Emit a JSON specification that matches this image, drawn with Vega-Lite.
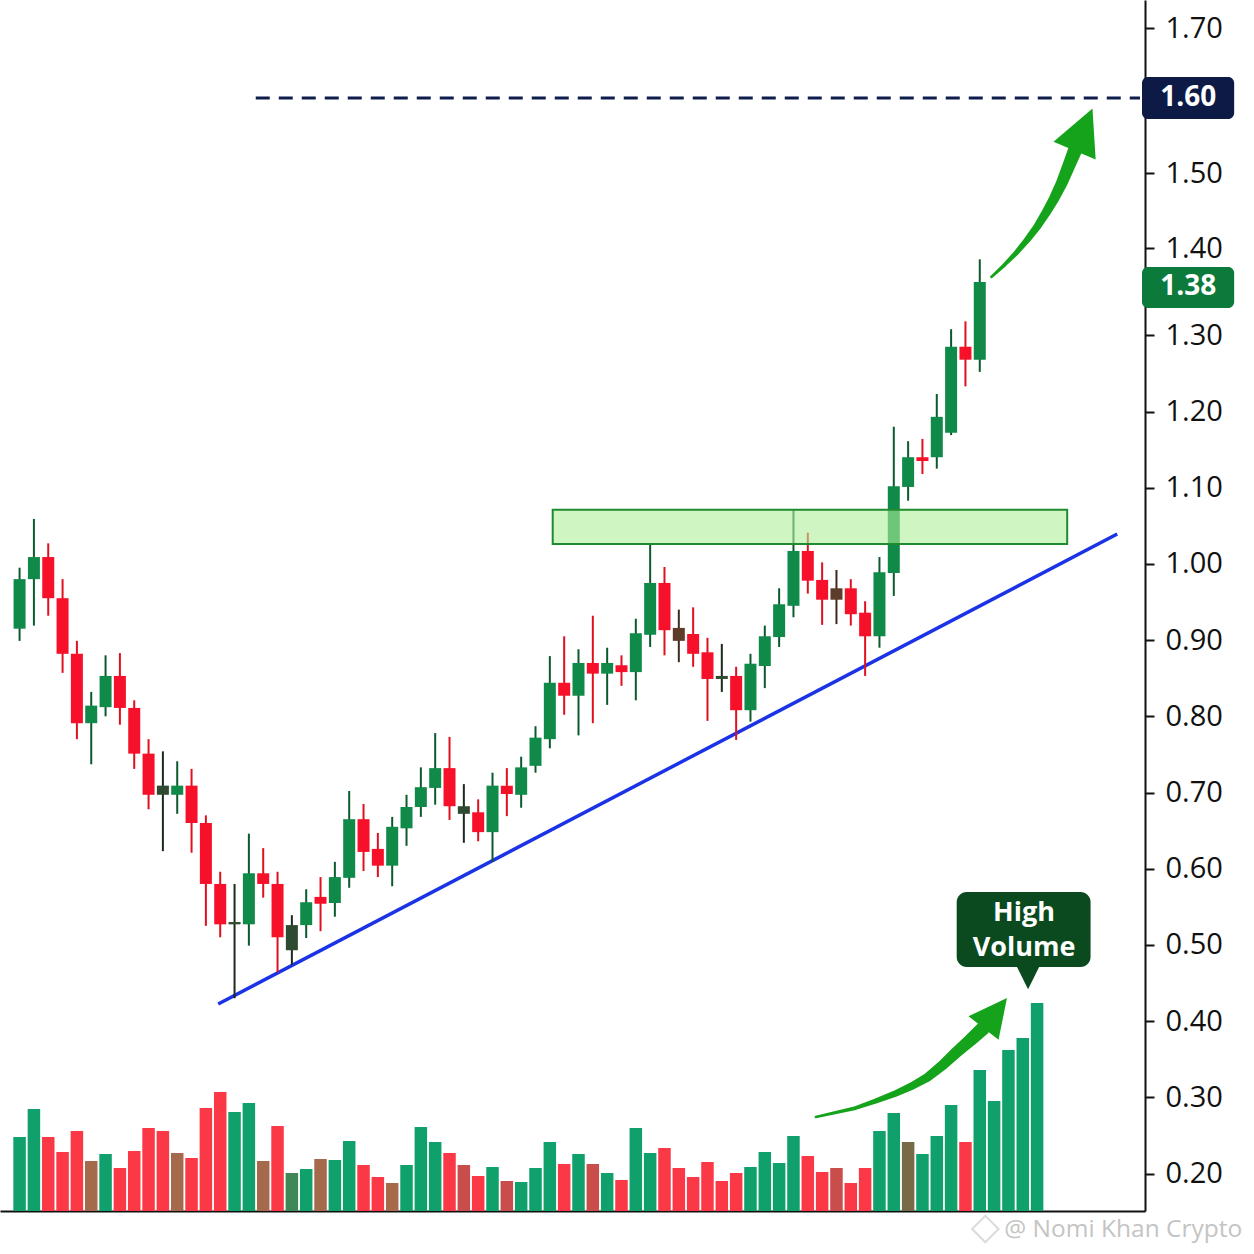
{
  "$schema": "https://vega.github.io/schema/vega-lite/v6.json",
  "width": 1145,
  "height": 1211,
  "autosize": {"type": "none"},
  "padding": {"left": 0, "top": 0, "right": 109, "bottom": 43},
  "background": "#ffffff",
  "config": {
    "view": {"stroke": null},
    "axisX": {"labels": false, "ticks": false, "grid": false, "domainColor": "#111111", "domainWidth": 2}
  },
  "datasets": {
    "candles": [
      {"i": 0, "o": 0.915, "h": 0.995, "l": 0.899, "c": 0.980, "t": "up"},
      {"i": 1, "o": 0.980, "h": 1.059, "l": 0.919, "c": 1.009, "t": "up"},
      {"i": 2, "o": 1.009, "h": 1.027, "l": 0.932, "c": 0.955, "t": "down"},
      {"i": 3, "o": 0.955, "h": 0.980, "l": 0.857, "c": 0.882, "t": "down"},
      {"i": 4, "o": 0.882, "h": 0.899, "l": 0.770, "c": 0.791, "t": "down"},
      {"i": 5, "o": 0.791, "h": 0.832, "l": 0.737, "c": 0.814, "t": "up"},
      {"i": 6, "o": 0.812, "h": 0.880, "l": 0.800, "c": 0.853, "t": "up"},
      {"i": 7, "o": 0.853, "h": 0.883, "l": 0.789, "c": 0.811, "t": "down"},
      {"i": 8, "o": 0.811, "h": 0.821, "l": 0.731, "c": 0.751, "t": "down"},
      {"i": 9, "o": 0.751, "h": 0.770, "l": 0.678, "c": 0.697, "t": "down"},
      {"i": 10, "o": 0.697, "h": 0.754, "l": 0.623, "c": 0.709, "t": "dark"},
      {"i": 11, "o": 0.697, "h": 0.741, "l": 0.672, "c": 0.709, "t": "up"},
      {"i": 12, "o": 0.709, "h": 0.731, "l": 0.621, "c": 0.660, "t": "down"},
      {"i": 13, "o": 0.660, "h": 0.670, "l": 0.525, "c": 0.580, "t": "down"},
      {"i": 14, "o": 0.580, "h": 0.596, "l": 0.510, "c": 0.527, "t": "down"},
      {"i": 15, "o": 0.527, "h": 0.580, "l": 0.430, "c": 0.530, "t": "dark"},
      {"i": 16, "o": 0.527, "h": 0.646, "l": 0.499, "c": 0.594, "t": "up"},
      {"i": 17, "o": 0.594, "h": 0.627, "l": 0.562, "c": 0.580, "t": "down"},
      {"i": 18, "o": 0.580, "h": 0.596, "l": 0.464, "c": 0.510, "t": "down"},
      {"i": 19, "o": 0.493, "h": 0.539, "l": 0.474, "c": 0.526, "t": "dark"},
      {"i": 20, "o": 0.526, "h": 0.573, "l": 0.509, "c": 0.556, "t": "up"},
      {"i": 21, "o": 0.563, "h": 0.589, "l": 0.518, "c": 0.554, "t": "down"},
      {"i": 22, "o": 0.555, "h": 0.609, "l": 0.537, "c": 0.589, "t": "up"},
      {"i": 23, "o": 0.588, "h": 0.702, "l": 0.575, "c": 0.665, "t": "up"},
      {"i": 24, "o": 0.665, "h": 0.685, "l": 0.597, "c": 0.622, "t": "down"},
      {"i": 25, "o": 0.626, "h": 0.647, "l": 0.589, "c": 0.604, "t": "down"},
      {"i": 26, "o": 0.604, "h": 0.668, "l": 0.577, "c": 0.655, "t": "up"},
      {"i": 27, "o": 0.653, "h": 0.697, "l": 0.630, "c": 0.681, "t": "up"},
      {"i": 28, "o": 0.681, "h": 0.733, "l": 0.668, "c": 0.707, "t": "up"},
      {"i": 29, "o": 0.706, "h": 0.778, "l": 0.684, "c": 0.732, "t": "up"},
      {"i": 30, "o": 0.732, "h": 0.773, "l": 0.664, "c": 0.682, "t": "down"},
      {"i": 31, "o": 0.672, "h": 0.711, "l": 0.634, "c": 0.682, "t": "dark"},
      {"i": 32, "o": 0.674, "h": 0.691, "l": 0.636, "c": 0.648, "t": "down"},
      {"i": 33, "o": 0.648, "h": 0.726, "l": 0.609, "c": 0.709, "t": "up"},
      {"i": 34, "o": 0.709, "h": 0.732, "l": 0.669, "c": 0.698, "t": "down"},
      {"i": 35, "o": 0.697, "h": 0.747, "l": 0.680, "c": 0.733, "t": "up"},
      {"i": 36, "o": 0.735, "h": 0.787, "l": 0.726, "c": 0.772, "t": "up"},
      {"i": 37, "o": 0.770, "h": 0.879, "l": 0.758, "c": 0.844, "t": "up"},
      {"i": 38, "o": 0.844, "h": 0.905, "l": 0.802, "c": 0.827, "t": "down"},
      {"i": 39, "o": 0.827, "h": 0.888, "l": 0.775, "c": 0.870, "t": "up"},
      {"i": 40, "o": 0.870, "h": 0.932, "l": 0.791, "c": 0.856, "t": "down"},
      {"i": 41, "o": 0.856, "h": 0.890, "l": 0.815, "c": 0.870, "t": "up"},
      {"i": 42, "o": 0.867, "h": 0.880, "l": 0.840, "c": 0.858, "t": "down"},
      {"i": 43, "o": 0.858, "h": 0.928, "l": 0.821, "c": 0.909, "t": "up"},
      {"i": 44, "o": 0.907, "h": 1.027, "l": 0.891, "c": 0.975, "t": "up"},
      {"i": 45, "o": 0.975, "h": 0.996, "l": 0.880, "c": 0.913, "t": "down"},
      {"i": 46, "o": 0.916, "h": 0.940, "l": 0.871, "c": 0.899, "t": "brown"},
      {"i": 47, "o": 0.908, "h": 0.943, "l": 0.865, "c": 0.882, "t": "down"},
      {"i": 48, "o": 0.884, "h": 0.903, "l": 0.794, "c": 0.849, "t": "down"},
      {"i": 49, "o": 0.849, "h": 0.895, "l": 0.832, "c": 0.853, "t": "dark"},
      {"i": 50, "o": 0.853, "h": 0.865, "l": 0.769, "c": 0.808, "t": "down"},
      {"i": 51, "o": 0.808, "h": 0.882, "l": 0.793, "c": 0.869, "t": "up"},
      {"i": 52, "o": 0.866, "h": 0.919, "l": 0.837, "c": 0.905, "t": "up"},
      {"i": 53, "o": 0.904, "h": 0.968, "l": 0.891, "c": 0.947, "t": "up"},
      {"i": 54, "o": 0.945, "h": 1.071, "l": 0.930, "c": 1.017, "t": "up"},
      {"i": 55, "o": 1.017, "h": 1.041, "l": 0.961, "c": 0.978, "t": "down"},
      {"i": 56, "o": 0.979, "h": 1.002, "l": 0.920, "c": 0.953, "t": "down"},
      {"i": 57, "o": 0.968, "h": 0.992, "l": 0.921, "c": 0.953, "t": "brown"},
      {"i": 58, "o": 0.968, "h": 0.980, "l": 0.919, "c": 0.934, "t": "down"},
      {"i": 59, "o": 0.936, "h": 0.951, "l": 0.853, "c": 0.905, "t": "down"},
      {"i": 60, "o": 0.905, "h": 1.009, "l": 0.890, "c": 0.989, "t": "up"},
      {"i": 61, "o": 0.988, "h": 1.180, "l": 0.958, "c": 1.102, "t": "up"},
      {"i": 62, "o": 1.101, "h": 1.161, "l": 1.083, "c": 1.140, "t": "up"},
      {"i": 63, "o": 1.140, "h": 1.164, "l": 1.118, "c": 1.135, "t": "down"},
      {"i": 64, "o": 1.140, "h": 1.223, "l": 1.125, "c": 1.193, "t": "up"},
      {"i": 65, "o": 1.172, "h": 1.307, "l": 1.169, "c": 1.285, "t": "up"},
      {"i": 66, "o": 1.285, "h": 1.316, "l": 1.233, "c": 1.268, "t": "down"},
      {"i": 67, "o": 1.268, "h": 1.387, "l": 1.252, "c": 1.361, "t": "up"}
    ],
    "volume": [
      {"i": 0, "vol": 37, "t": "up"}, {"i": 1, "vol": 51, "t": "up"},
      {"i": 2, "vol": 37, "t": "down"}, {"i": 3, "vol": 29.5, "t": "down"},
      {"i": 4, "vol": 40, "t": "down"}, {"i": 5, "vol": 25, "t": "brown"},
      {"i": 6, "vol": 28.5, "t": "up"}, {"i": 7, "vol": 21.5, "t": "down"},
      {"i": 8, "vol": 30, "t": "down"}, {"i": 9, "vol": 41.5, "t": "down"},
      {"i": 10, "vol": 40, "t": "down"}, {"i": 11, "vol": 29, "t": "brown"},
      {"i": 12, "vol": 26.5, "t": "down"}, {"i": 13, "vol": 51.5, "t": "down"},
      {"i": 14, "vol": 59.5, "t": "down"}, {"i": 15, "vol": 49.5, "t": "up"},
      {"i": 16, "vol": 54, "t": "up"}, {"i": 17, "vol": 25, "t": "brown"},
      {"i": 18, "vol": 42.5, "t": "down"}, {"i": 19, "vol": 19, "t": "dkgreen"},
      {"i": 20, "vol": 21, "t": "up"}, {"i": 21, "vol": 26, "t": "brown"},
      {"i": 22, "vol": 25.5, "t": "up"}, {"i": 23, "vol": 35, "t": "up"},
      {"i": 24, "vol": 23, "t": "down"}, {"i": 25, "vol": 17, "t": "down"},
      {"i": 26, "vol": 14, "t": "brown"}, {"i": 27, "vol": 23, "t": "up"},
      {"i": 28, "vol": 42, "t": "up"}, {"i": 29, "vol": 34.5, "t": "up"},
      {"i": 30, "vol": 29, "t": "down"}, {"i": 31, "vol": 23, "t": "dkred"},
      {"i": 32, "vol": 17.5, "t": "down"}, {"i": 33, "vol": 22, "t": "up"},
      {"i": 34, "vol": 15, "t": "dkred"}, {"i": 35, "vol": 14.5, "t": "up"},
      {"i": 36, "vol": 21.5, "t": "up"}, {"i": 37, "vol": 34.5, "t": "up"},
      {"i": 38, "vol": 23.5, "t": "down"}, {"i": 39, "vol": 28.5, "t": "up"},
      {"i": 40, "vol": 23.5, "t": "dkred"}, {"i": 41, "vol": 19, "t": "up"},
      {"i": 42, "vol": 15.5, "t": "down"}, {"i": 43, "vol": 41.5, "t": "up"},
      {"i": 44, "vol": 29, "t": "up"}, {"i": 45, "vol": 31.5, "t": "down"},
      {"i": 46, "vol": 21.5, "t": "down"}, {"i": 47, "vol": 17, "t": "down"},
      {"i": 48, "vol": 24.5, "t": "down"}, {"i": 49, "vol": 15, "t": "down"},
      {"i": 50, "vol": 19, "t": "down"}, {"i": 51, "vol": 22, "t": "up"},
      {"i": 52, "vol": 29.5, "t": "up"}, {"i": 53, "vol": 24, "t": "up"},
      {"i": 54, "vol": 37.5, "t": "up"}, {"i": 55, "vol": 27.5, "t": "down"},
      {"i": 56, "vol": 19.5, "t": "down"}, {"i": 57, "vol": 21.5, "t": "dkred"},
      {"i": 58, "vol": 14, "t": "down"}, {"i": 59, "vol": 21.5, "t": "down"},
      {"i": 60, "vol": 40, "t": "up"}, {"i": 61, "vol": 49, "t": "up"},
      {"i": 62, "vol": 34.5, "t": "olive"}, {"i": 63, "vol": 28.5, "t": "up"},
      {"i": 64, "vol": 37.5, "t": "up"}, {"i": 65, "vol": 53, "t": "up"},
      {"i": 66, "vol": 34.5, "t": "down"}, {"i": 67, "vol": 70.5, "t": "up"},
      {"i": 68, "vol": 55, "t": "up"}, {"i": 69, "vol": 80.5, "t": "up"},
      {"i": 70, "vol": 86.5, "t": "up"}, {"i": 71, "vol": 104, "t": "up"}
    ],
    "zone": [{"x1": 37.2, "x2": 73.1, "lo": 1.026, "hi": 1.071}],
    "trend": [{"i": 13.86, "v": 0.4224}, {"i": 76.59, "v": 1.0392}],
    "target": [{"x1": 16.48, "x2": 78.18, "v": 1.6}],
    "arrows": [
      {"arrow": "price", "k": 0, "i": 67.81, "v": 1.3668},
      {"arrow": "price", "k": 1, "i": 68.71, "v": 1.3805},
      {"arrow": "price", "k": 2, "i": 69.54, "v": 1.3943},
      {"arrow": "price", "k": 3, "i": 70.30, "v": 1.4107},
      {"arrow": "price", "k": 4, "i": 70.99, "v": 1.4280},
      {"arrow": "price", "k": 5, "i": 71.61, "v": 1.4467},
      {"arrow": "price", "k": 6, "i": 72.17, "v": 1.4653},
      {"arrow": "price", "k": 7, "i": 72.72, "v": 1.4867},
      {"arrow": "price", "k": 8, "i": 73.20, "v": 1.5093},
      {"arrow": "price", "k": 9, "i": 73.62, "v": 1.5293},
      {"arrow": "volume", "k": 0, "i": 55.56, "v": 0.2741},
      {"arrow": "volume", "k": 1, "i": 58.33, "v": 0.2859},
      {"arrow": "volume", "k": 2, "i": 59.72, "v": 0.2951},
      {"arrow": "volume", "k": 3, "i": 61.03, "v": 0.3043},
      {"arrow": "volume", "k": 4, "i": 62.27, "v": 0.3148},
      {"arrow": "volume", "k": 5, "i": 63.38, "v": 0.3266},
      {"arrow": "volume", "k": 6, "i": 64.42, "v": 0.3424},
      {"arrow": "volume", "k": 7, "i": 65.39, "v": 0.3594},
      {"arrow": "volume", "k": 8, "i": 66.35, "v": 0.3752},
      {"arrow": "volume", "k": 9, "i": 67.25, "v": 0.3909}
    ],
    "heads": [
      {"arrow": "price", "i": 74.24, "v": 1.558},
      {"arrow": "volume", "i": 68.08, "v": 0.4106}
    ],
    "callout": [{"x1": 65.39, "x2": 74.73, "lo": 0.471, "hi": 0.5694, "pi": 70.37, "pv": 0.4565}],
    "calloutText": [
      {"i": 70.09, "v": 0.5418, "label": "High"},
      {"i": 70.09, "v": 0.4959, "label": "Volume"}
    ],
    "tags": [
      {"kind": "target", "x1": 78.32, "x2": 84.75, "lo": 1.572, "hi": 1.63, "xm": 81.54, "v": 1.6, "label": "1.60"},
      {"kind": "last", "x1": 78.32, "x2": 84.75, "lo": 1.3313, "hi": 1.3782, "xm": 81.54, "v": 1.3548, "label": "1.38"}
    ],
    "credit": [{"i": 68.71, "v": 0.1258, "li": 67.39, "lv": 0.1271, "label": "@ Nomi Khan Crypto"}]
  },
  "layer": [
    {
      "layer": [
        {
          "data": {"name": "trend"},
          "mark": {"type": "line", "color": "#1b33e6", "strokeWidth": 3.5},
          "encoding": {
            "x": {"field": "i", "type": "quantitative", "title": null, "scale": {"domain": [-1.017, 78.18], "nice": false, "zero": false}},
            "y": {"field": "v", "type": "quantitative", "title": null,
              "scale": {"domain": [0.1508, 1.3, 1.4, 1.5, 1.6, 1.7, 1.74], "range": [1211, 335.3, 248, 173, 98, 28, 0], "nice": false, "zero": false},
              "axis": {"orient": "right", "values": [0.2, 0.3, 0.4, 0.5, 0.6, 0.7, 0.8, 0.9, 1.0, 1.1, 1.2, 1.3, 1.4, 1.5, 1.7], "format": ".2f",
                "labelFont": "Open Sans", "labelFontSize": 29, "labelColor": "#111111", "labelPadding": 11,
                "tickSize": 9, "tickWidth": 2, "tickColor": "#111111", "domainColor": "#111111", "domainWidth": 2, "grid": false}}
          }
        },
        {
          "data": {"name": "target"},
          "mark": {"type": "rule", "color": "#0f1d4d", "strokeWidth": 3, "strokeDash": [14, 9]},
          "encoding": {
            "x": {"field": "x1", "type": "quantitative", "title": null, "scale": {"domain": [-1.017, 78.18], "nice": false, "zero": false}},
            "x2": {"field": "x2"},
            "y": {"field": "v", "type": "quantitative", "title": null, "scale": {"domain": [0.1508, 1.3, 1.4, 1.5, 1.6, 1.7, 1.74], "range": [1211, 335.3, 248, 173, 98, 28, 0], "nice": false, "zero": false}}
          }
        },
        {
          "data": {"name": "candles"},
          "mark": {"type": "rule", "strokeWidth": 2},
          "encoding": {
            "x": {"field": "i", "type": "quantitative", "title": null, "scale": {"domain": [-1.017, 78.18], "nice": false, "zero": false}},
            "y": {"field": "l", "type": "quantitative", "title": null, "scale": {"domain": [0.1508, 1.3, 1.4, 1.5, 1.6, 1.7, 1.74], "range": [1211, 335.3, 248, 173, 98, 28, 0], "nice": false, "zero": false}},
            "y2": {"field": "h"},
            "stroke": {"field": "t", "type": "nominal", "legend": null,
              "scale": {"domain": ["up", "down", "dark", "brown"], "range": ["#0b5a2c", "#e0101e", "#1c2a1c", "#3e2a1e"]}}
          }
        },
        {
          "data": {"name": "candles"},
          "mark": {"type": "bar", "width": 12},
          "encoding": {
            "x": {"field": "i", "type": "quantitative", "title": null, "scale": {"domain": [-1.017, 78.18], "nice": false, "zero": false}},
            "y": {"field": "o", "type": "quantitative", "title": null, "scale": {"domain": [0.1508, 1.3, 1.4, 1.5, 1.6, 1.7, 1.74], "range": [1211, 335.3, 248, 173, 98, 28, 0], "nice": false, "zero": false}},
            "y2": {"field": "c"},
            "fill": {"field": "t", "type": "nominal", "legend": null,
              "scale": {"domain": ["up", "down", "dark", "brown"], "range": ["#0f8a48", "#f7102a", "#2e4a30", "#5e3c2a"]}}
          }
        },
        {
          "data": {"name": "zone"},
          "mark": {"type": "rect", "fill": "#aeee9a", "fillOpacity": 0.6, "stroke": "#1f8a2e", "strokeWidth": 2},
          "encoding": {
            "x": {"field": "x1", "type": "quantitative", "title": null, "scale": {"domain": [-1.017, 78.18], "nice": false, "zero": false}},
            "x2": {"field": "x2"},
            "y": {"field": "lo", "type": "quantitative", "title": null, "scale": {"domain": [0.1508, 1.3, 1.4, 1.5, 1.6, 1.7, 1.74], "range": [1211, 335.3, 248, 173, 98, 28, 0], "nice": false, "zero": false}},
            "y2": {"field": "hi"}
          }
        },
        {
          "data": {"name": "arrows"},
          "mark": {"type": "trail", "color": "#16a31c"},
          "encoding": {
            "x": {"field": "i", "type": "quantitative", "title": null, "scale": {"domain": [-1.017, 78.18], "nice": false, "zero": false}},
            "y": {"field": "v", "type": "quantitative", "title": null, "scale": {"domain": [0.1508, 1.3, 1.4, 1.5, 1.6, 1.7, 1.74], "range": [1211, 335.3, 248, 173, 98, 28, 0], "nice": false, "zero": false}},
            "detail": {"field": "arrow", "type": "nominal"},
            "order": {"field": "k", "type": "quantitative"},
            "size": {"field": "k", "type": "quantitative", "legend": null, "scale": {"domain": [0, 9], "range": [2.5, 14]}}
          }
        },
        {
          "data": {"name": "heads"},
          "transform": [{"filter": "datum.arrow === 'price'"}],
          "mark": {"type": "point", "filled": true, "opacity": 1, "color": "#16a31c", "shape": "M0,-1L1,1L-1,1Z", "size": 2100, "angle": 23},
          "encoding": {
            "x": {"field": "i", "type": "quantitative", "title": null, "scale": {"domain": [-1.017, 78.18], "nice": false, "zero": false}},
            "y": {"field": "v", "type": "quantitative", "title": null, "scale": {"domain": [0.1508, 1.3, 1.4, 1.5, 1.6, 1.7, 1.74], "range": [1211, 335.3, 248, 173, 98, 28, 0], "nice": false, "zero": false}}
          }
        },
        {
          "data": {"name": "heads"},
          "transform": [{"filter": "datum.arrow === 'volume'"}],
          "mark": {"type": "point", "filled": true, "opacity": 1, "color": "#16a31c", "shape": "M0,-1L1,1L-1,1Z", "size": 1450, "angle": 38},
          "encoding": {
            "x": {"field": "i", "type": "quantitative", "title": null, "scale": {"domain": [-1.017, 78.18], "nice": false, "zero": false}},
            "y": {"field": "v", "type": "quantitative", "title": null, "scale": {"domain": [0.1508, 1.3, 1.4, 1.5, 1.6, 1.7, 1.74], "range": [1211, 335.3, 248, 173, 98, 28, 0], "nice": false, "zero": false}}
          }
        },
        {
          "data": {"name": "callout"},
          "mark": {"type": "rect", "fill": "#0a4a1e", "cornerRadius": 10},
          "encoding": {
            "x": {"field": "x1", "type": "quantitative", "title": null, "scale": {"domain": [-1.017, 78.18], "nice": false, "zero": false}},
            "x2": {"field": "x2"},
            "y": {"field": "lo", "type": "quantitative", "title": null, "scale": {"domain": [0.1508, 1.3, 1.4, 1.5, 1.6, 1.7, 1.74], "range": [1211, 335.3, 248, 173, 98, 28, 0], "nice": false, "zero": false}},
            "y2": {"field": "hi"}
          }
        },
        {
          "data": {"name": "callout"},
          "mark": {"type": "point", "filled": true, "opacity": 1, "color": "#0a4a1e", "shape": "M-1,-1L1,-1L0,1Z", "size": 500},
          "encoding": {
            "x": {"field": "pi", "type": "quantitative", "title": null, "scale": {"domain": [-1.017, 78.18], "nice": false, "zero": false}},
            "y": {"field": "pv", "type": "quantitative", "title": null, "scale": {"domain": [0.1508, 1.3, 1.4, 1.5, 1.6, 1.7, 1.74], "range": [1211, 335.3, 248, 173, 98, 28, 0], "nice": false, "zero": false}}
          }
        },
        {
          "data": {"name": "calloutText"},
          "mark": {"type": "text", "color": "#ffffff", "font": "Open Sans", "fontSize": 27, "fontWeight": "bold", "align": "center", "baseline": "middle"},
          "encoding": {
            "x": {"field": "i", "type": "quantitative", "title": null, "scale": {"domain": [-1.017, 78.18], "nice": false, "zero": false}},
            "y": {"field": "v", "type": "quantitative", "title": null, "scale": {"domain": [0.1508, 1.3, 1.4, 1.5, 1.6, 1.7, 1.74], "range": [1211, 335.3, 248, 173, 98, 28, 0], "nice": false, "zero": false}},
            "text": {"field": "label"}
          }
        },
        {
          "data": {"name": "tags"},
          "mark": {"type": "rect", "cornerRadius": 6},
          "encoding": {
            "x": {"field": "x1", "type": "quantitative", "title": null, "scale": {"domain": [-1.017, 78.18], "nice": false, "zero": false}},
            "x2": {"field": "x2"},
            "y": {"field": "lo", "type": "quantitative", "title": null, "scale": {"domain": [0.1508, 1.3, 1.4, 1.5, 1.6, 1.7, 1.74], "range": [1211, 335.3, 248, 173, 98, 28, 0], "nice": false, "zero": false}},
            "y2": {"field": "hi"},
            "color": {"field": "kind", "type": "nominal", "legend": null, "scale": {"domain": ["target", "last"], "range": ["#0d1a45", "#0b7a3a"]}}
          }
        },
        {
          "data": {"name": "tags"},
          "mark": {"type": "text", "color": "#ffffff", "font": "Open Sans", "fontSize": 28, "fontWeight": "bold", "align": "center", "baseline": "middle"},
          "encoding": {
            "x": {"field": "xm", "type": "quantitative", "title": null, "scale": {"domain": [-1.017, 78.18], "nice": false, "zero": false}},
            "y": {"field": "v", "type": "quantitative", "title": null, "scale": {"domain": [0.1508, 1.3, 1.4, 1.5, 1.6, 1.7, 1.74], "range": [1211, 335.3, 248, 173, 98, 28, 0], "nice": false, "zero": false}},
            "text": {"field": "label"}
          }
        },
        {
          "data": {"name": "credit"},
          "mark": {"type": "text", "color": "#c4c4c4", "font": "Open Sans", "fontSize": 24.5, "align": "left", "baseline": "middle"},
          "encoding": {
            "x": {"field": "i", "type": "quantitative", "title": null, "scale": {"domain": [-1.017, 78.18], "nice": false, "zero": false}},
            "y": {"field": "v", "type": "quantitative", "title": null, "scale": {"domain": [0.1508, 1.3, 1.4, 1.5, 1.6, 1.7, 1.74], "range": [1211, 335.3, 248, 173, 98, 28, 0], "nice": false, "zero": false}},
            "text": {"field": "label"}
          }
        },
        {
          "data": {"name": "credit"},
          "mark": {"type": "point", "shape": "diamond", "filled": false, "stroke": "#cccccc", "strokeWidth": 2, "size": 700},
          "encoding": {
            "x": {"field": "li", "type": "quantitative", "title": null, "scale": {"domain": [-1.017, 78.18], "nice": false, "zero": false}},
            "y": {"field": "lv", "type": "quantitative", "title": null, "scale": {"domain": [0.1508, 1.3, 1.4, 1.5, 1.6, 1.7, 1.74], "range": [1211, 335.3, 248, 173, 98, 28, 0], "nice": false, "zero": false}}
          }
        }
      ]
    },
    {
      "data": {"name": "volume"},
      "mark": {"type": "bar", "width": 12.5},
      "encoding": {
        "x": {"field": "i", "type": "quantitative", "title": null, "scale": {"domain": [-1.017, 78.18], "nice": false, "zero": false}},
        "y": {"field": "vol", "type": "quantitative", "title": null, "axis": null, "scale": {"domain": [0, 605.5], "nice": false}},
        "color": {"field": "t", "type": "nominal", "legend": null,
          "scale": {"domain": ["up", "down", "brown", "dkred", "dkgreen", "olive"], "range": ["#0fa06b", "#fb3946", "#a5694b", "#c94d4a", "#3d8856", "#776a47"]}}
      }
    }
  ],
  "resolve": {"scale": {"y": "independent", "color": "independent"}}
}
